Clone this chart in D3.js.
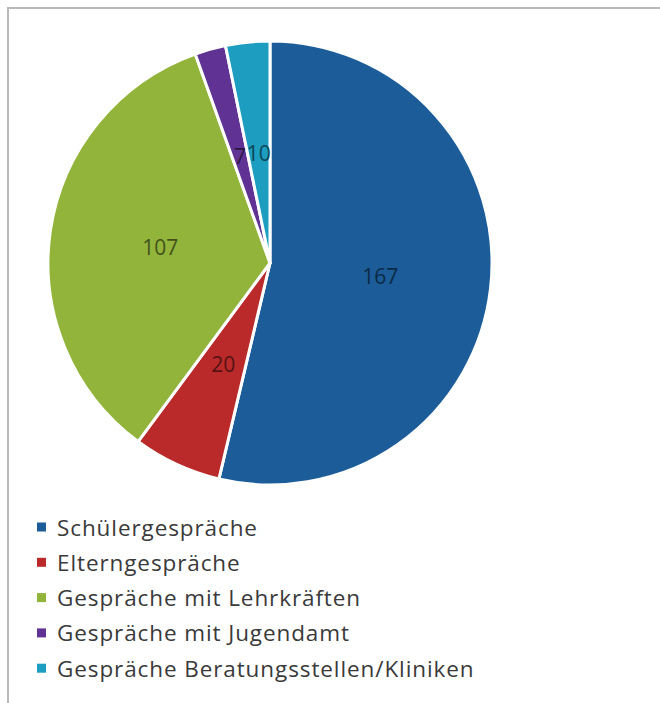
<!DOCTYPE html>
<html>
<head>
<meta charset="utf-8">
<script src="https://cdn.jsdelivr.net/npm/d3@7"></script>
<style>
  html, body { margin: 0; padding: 0; background: #fff; }
  svg { display: block; }
</style>
</head>
<body>
<svg id="chart" width="660" height="703"></svg>
<script>
// Categories, values and slice colours
const categories = [
  "Schülergespräche",
  "Elterngespräche",
  "Gespräche mit Lehrkräften",
  "Gespräche mit Jugendamt",
  "Gespräche Beratungsstellen/Kliniken"
];
const values = [167, 20, 107, 7, 10];
const colors = ["#1b5c99", "#bb2a2a", "#92b43b", "#5f3293", "#1d9ec0"];

const svg = d3.select("#chart");
const W = 660, H = 703;

// Chart frame (only top and left edges fall inside the view)
svg.append("path")
  .attr("d", `M8,${H} L8,8 L${W},8`)
  .attr("fill", "none")
  .attr("stroke", "#b9b9b9")
  .attr("stroke-width", 2);

const cx = 270, cy = 263, R = 222;

const pie = d3.pie().sort(null).value(d => d.value);
const arcs = pie(categories.map((c, i) => ({ name: c, value: values[i], color: colors[i] })));

const arc = d3.arc().innerRadius(0).outerRadius(R);
const labelArc = d3.arc().innerRadius(R * 0.5).outerRadius(R * 0.5);

const g = svg.append("g").attr("transform", `translate(${cx},${cy})`);

g.selectAll("path.slice")
  .data(arcs)
  .join("path")
  .attr("class", "slice")
  .attr("d", arc)
  .attr("fill", d => d.data.color)
  .attr("stroke", "#fff")
  .attr("stroke-width", 3)
  .attr("stroke-linejoin", "round");

g.selectAll("text.val")
  .data(arcs)
  .join("text")
  .attr("class", "val")
  .attr("transform", d => `translate(${labelArc.centroid(d)})`)
  .attr("text-anchor", "middle")
  .attr("dominant-baseline", "central")
  .attr("font-family", "'Open Sans', 'Noto Sans', sans-serif")
  .attr("font-size", 21)
  .attr("fill", d => d3.color(d.data.color).darker(2.2))
  .text(d => d.data.value);

// Legend
const legend = svg.append("g").attr("transform", "translate(37,527)");
const rowH = 35.3;
const rows = legend.selectAll("g.row")
  .data(categories)
  .join("g")
  .attr("class", "row")
  .attr("transform", (d, i) => `translate(0,${i * rowH})`);

rows.append("rect")
  .attr("x", 0).attr("y", -4.5)
  .attr("width", 9).attr("height", 9)
  .attr("fill", (d, i) => colors[i]);

rows.append("text")
  .attr("x", 20).attr("y", 0)
  .attr("dominant-baseline", "central")
  .attr("font-family", "'Open Sans', 'Noto Sans', sans-serif")
  .attr("font-size", 22.5)
  .attr("letter-spacing", 0.9)
  .attr("fill", "#3a3a3a")
  .text(d => d);
</script>
</body>
</html>
